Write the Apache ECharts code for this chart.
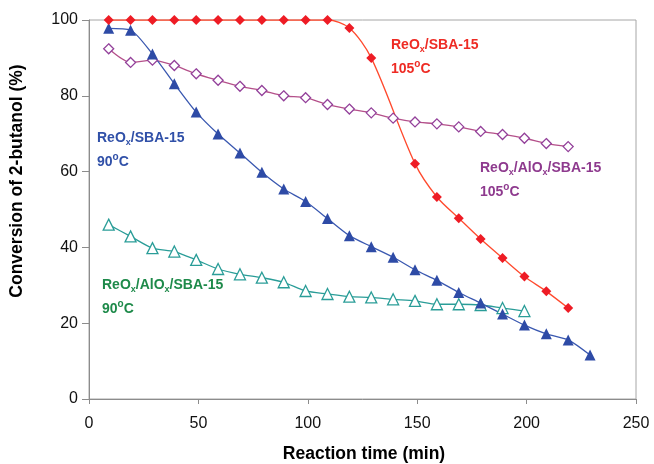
<!DOCTYPE html>
<html>
<head>
<meta charset="utf-8">
<script src="https://cdn.jsdelivr.net/npm/echarts@6/dist/echarts.min.js"></script>
<style>
  html, body { margin: 0; padding: 0; background: #fff; }
  #chart { width: 654px; height: 464px; }
</style>
</head>
<body>
<div id="chart"></div>
<script>
// reaction time (min)
var timeRed = [9, 19, 29, 39, 49, 59, 69, 79, 89, 99, 109, 119, 129, 149, 159, 169, 179, 189, 199, 209, 219];
var convRed = [100, 100, 100, 100, 100, 100, 100, 100, 100, 100, 100, 97.9, 90.0, 62.1, 53.3, 47.7, 42.2, 37.2, 32.3, 28.4, 24.0];

var timeBlue = [9, 19, 29, 39, 49, 59, 69, 79, 89, 99, 109, 119, 129, 139, 149, 159, 169, 179, 189, 199, 209, 219, 229];
var convBlue = [97.8, 97.3, 91.0, 83.2, 75.7, 69.9, 64.9, 59.8, 55.4, 52.1, 47.6, 43.1, 40.2, 37.4, 34.1, 31.3, 28.1, 25.3, 22.4, 19.5, 17.2, 15.6, 11.6];

var timePurple = [9, 19, 29, 39, 49, 59, 69, 79, 89, 99, 109, 119, 129, 139, 149, 159, 169, 179, 189, 199, 209, 219];
var convPurple = [92.4, 88.8, 89.4, 88.0, 85.8, 84.1, 82.5, 81.4, 80.0, 79.5, 77.7, 76.5, 75.5, 74.1, 73.1, 72.6, 71.8, 70.6, 69.8, 68.8, 67.4, 66.6];

var timeTeal = [9, 19, 29, 39, 49, 59, 69, 79, 89, 99, 109, 119, 129, 139, 149, 159, 169, 179, 189, 199];
var convTeal = [46.0, 42.9, 39.8, 38.9, 36.7, 34.3, 32.9, 32.0, 30.8, 28.5, 27.7, 27.0, 26.8, 26.3, 25.9, 25.0, 25.0, 24.8, 24.0, 23.2];

var xTicks = [0, 50, 100, 150, 200, 250];
var yTicks = [0, 20, 40, 60, 80, 100];

function pairs(xs, ys) {
  return xs.map(function (x, i) { return [x, ys[i]]; });
}

var FONT = '"Liberation Sans", Arial, sans-serif';

function label(left, top, color, name, temp) {
  // name is a list of [text, isSub]
  var txt = name.map(function (p) { return p[1] ? '{s|' + p[0] + '}' : '{a|' + p[0] + '}'; }).join('');
  txt += '\n{a|' + temp + '}{p|o}{a|C}';
  return {
    type: 'text',
    left: left,
    top: top,
    style: {
      text: txt,
      fill: color,
      font: 'bold 14px ' + FONT,
      rich: {
        a: { fontSize: 14, fontWeight: 'bold', fontFamily: FONT, fill: color, lineHeight: 24 },
        s: { fontSize: 9, fontWeight: 'bold', fontFamily: FONT, fill: color, verticalAlign: 'bottom', padding: [0, 0, 3, 0] },
        p: { fontSize: 10, fontWeight: 'bold', fontFamily: FONT, fill: color, verticalAlign: 'top', padding: [2, 0, 0, 0] }
      }
    }
  };
}

var chart = echarts.init(document.getElementById('chart'), null, { renderer: 'canvas' });

var option = {
  backgroundColor: '#ffffff',
  animation: false,
  grid: { left: 89, right: 18, top: 20, bottom: 65, show: true, borderColor: '#a6a6a6', borderWidth: 1 },
  xAxis: {
    type: 'value',
    min: 0, max: 250, interval: 50,
    axisLine: { lineStyle: { color: '#8c8c8c' } },
    axisTick: { show: true, length: 5, lineStyle: { color: '#8c8c8c' } },
    axisLabel: { color: '#111', fontSize: 16, fontFamily: FONT, margin: 17 },
    splitLine: { show: false }
  },
  yAxis: {
    type: 'value',
    min: 0, max: 100, interval: 20,
    axisLine: { show: true, lineStyle: { color: '#8c8c8c' } },
    axisTick: { show: true, length: 7, lineStyle: { color: '#8c8c8c' } },
    axisLabel: { color: '#111', fontSize: 16, fontFamily: FONT, margin: 11 },
    splitLine: { show: false }
  },
  graphic: [
    {
      type: 'text', x: 364, y: 454,
      style: { text: 'Reaction time (min)', font: 'bold 17.5px ' + FONT, fill: '#000', align: 'center', verticalAlign: 'middle' }
    },
    {
      type: 'text', x: 17, y: 181, rotation: Math.PI / 2,
      style: { text: 'Conversion of 2-butanol (%)', font: 'bold 17.5px ' + FONT, fill: '#000', align: 'center', verticalAlign: 'middle' }
    },
    label(391, 38, '#ee2b24', [['ReO', 0], ['x', 1], ['/SBA-15', 0]], '105'),
    label(97, 131, '#3050a8', [['ReO', 0], ['x', 1], ['/SBA-15', 0]], '90'),
    label(480, 161, '#8e3a8e', [['ReO', 0], ['x', 1], ['/AlO', 0], ['x', 1], ['/SBA-15', 0]], '105'),
    label(102, 278, '#1e8a4a', [['ReO', 0], ['x', 1], ['/AlO', 0], ['x', 1], ['/SBA-15', 0]], '90')
  ],
  series: [
    {
      name: 'ReOx/AlOx/SBA-15 90C',
      type: 'line',
      smooth: 0.25,
      data: pairs(timeTeal, convTeal),
      symbol: 'triangle', symbolSize: 11,
      lineStyle: { color: '#2a9d98', width: 1.3 },
      itemStyle: { color: '#ffffff', borderColor: '#2a9d98', borderWidth: 1.3 }
    },
    {
      name: 'ReOx/AlOx/SBA-15 105C',
      type: 'line',
      smooth: 0.25,
      data: pairs(timePurple, convPurple),
      symbol: 'diamond', symbolSize: 10,
      lineStyle: { color: '#b4508a', width: 1.3 },
      itemStyle: { color: '#ffffff', borderColor: '#93409a', borderWidth: 1.3 }
    },
    {
      name: 'ReOx/SBA-15 90C',
      type: 'line',
      smooth: 0.25,
      data: pairs(timeBlue, convBlue),
      symbol: 'triangle', symbolSize: 11,
      lineStyle: { color: '#3a58b0', width: 1.3 },
      itemStyle: { color: '#2e4ba6', borderColor: '#2e4ba6', borderWidth: 0 }
    },
    {
      name: 'ReOx/SBA-15 105C',
      type: 'line',
      smooth: 0.3,
      data: pairs(timeRed, convRed),
      symbol: 'diamond', symbolSize: 10,
      lineStyle: { color: '#ff4a2e', width: 1.3 },
      itemStyle: { color: '#ee1c25', borderColor: '#ee1c25', borderWidth: 0 }
    }
  ]
};

chart.setOption(option);
</script>
</body>
</html>
